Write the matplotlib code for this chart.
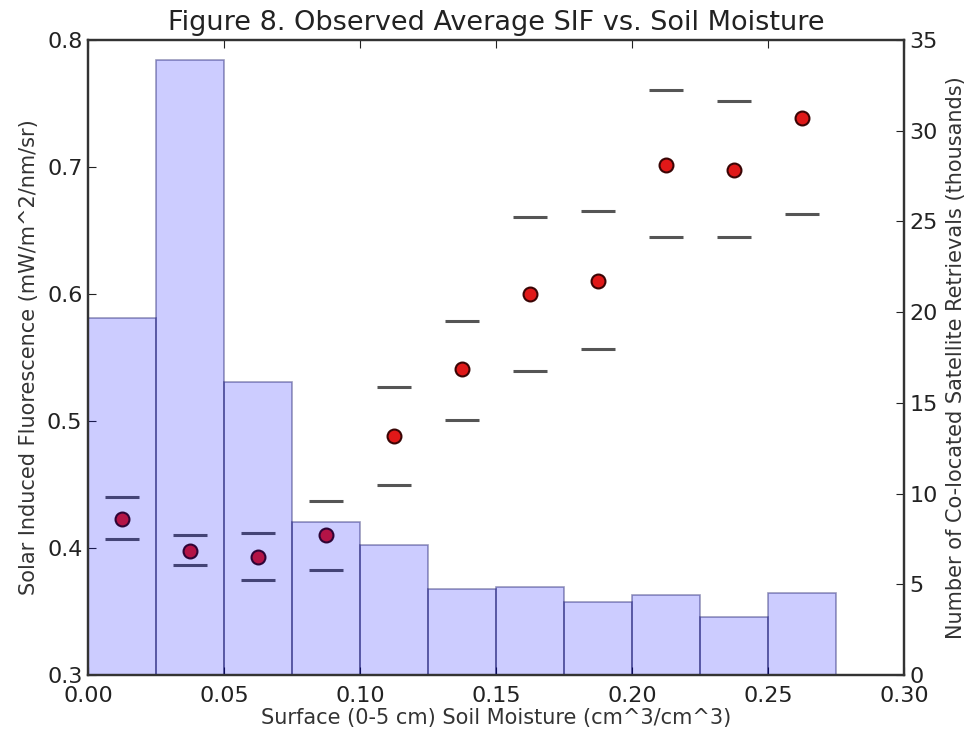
import numpy as np
import matplotlib
matplotlib.use("Agg")
import matplotlib.pyplot as plt

# soil moisture bin edges / centres
bin_left = [0.000, 0.025, 0.050, 0.075, 0.100, 0.125, 0.150, 0.175, 0.200, 0.225, 0.250]
bin_mid = [0.0125, 0.0375, 0.0625, 0.0875, 0.1125, 0.1375, 0.1625, 0.1875, 0.2125, 0.2375, 0.2625]

# counts of retrievals per bin (thousands)
counts = [19.7, 33.9, 16.15, 8.45, 7.15, 4.75, 4.85, 4.0, 4.4, 3.2, 4.5]

# mean SIF and spread
sif_mean = [0.4226, 0.398, 0.393, 0.410, 0.488, 0.541, 0.5998, 0.6105, 0.7016, 0.6976, 0.7383]
sif_hi = [0.440, 0.410, 0.412, 0.437, 0.527, 0.579, 0.661, 0.665, 0.7606, 0.7522, 0.814]
sif_lo = [0.407, 0.3864, 0.3746, 0.383, 0.450, 0.5008, 0.5396, 0.5565, 0.6446, 0.6446, 0.6628]

plt.rcParams['font.family'] = ['DejaVu Sans']
plt.rcParams['xtick.direction'] = 'in'
plt.rcParams['ytick.direction'] = 'in'

fig = plt.figure(figsize=(9.8, 7.4), dpi=100)
ax = fig.add_axes([0.0898, 0.0878, 0.8326, 0.8582])

ax.plot(bin_mid, sif_hi, linestyle='none', marker='_', markersize=24,
        markeredgewidth=2.2, color='#555555', clip_on=True)
ax.plot(bin_mid, sif_lo, linestyle='none', marker='_', markersize=24,
        markeredgewidth=2.2, color='#555555', clip_on=True)
ax.plot(bin_mid, sif_mean, linestyle='none', marker='o', markersize=10,
        markerfacecolor='#e01818', markeredgecolor='#3a0505', markeredgewidth=1.5)

ax.set_xlim(0, 0.30)
ax.set_ylim(0.3, 0.8)
ax.set_xticks(np.arange(0, 0.31, 0.05))
ax.set_xticklabels(['%.2f' % v for v in np.arange(0, 0.31, 0.05)])
ax.set_yticks(np.arange(0.3, 0.81, 0.1))
ax.set_yticklabels(['%.1f' % v for v in np.arange(0.3, 0.81, 0.1)])
ax.tick_params(axis='both', labelsize=16, length=6, top=True, colors='#222222')
ax.tick_params(axis='x', pad=8)
ax.tick_params(axis='y', pad=4)
ax.set_xlabel('Surface (0-5 cm) Soil Moisture (cm^3/cm^3)', fontsize=15, color='#333333', labelpad=1)
ax.set_ylabel('Solar Induced Fluorescence (mW/m^2/nm/sr)', fontsize=15, color='#333333', labelpad=6)
ax.set_title('Figure 8. Observed Average SIF vs. Soil Moisture', fontsize=19.5, color='#222222', pad=7)

ax2 = ax.twinx()
ax2.bar(bin_left, counts, width=0.025, align='edge',
        facecolor=(0, 0, 1, 0.2), edgecolor=(0, 0, 0.35, 0.4), linewidth=1.2)
ax2.set_ylim(0, 35)
ax2.set_xlim(0, 0.30)
ax2.set_yticks(range(0, 36, 5))
ax2.tick_params(axis='y', labelsize=16, length=6, pad=4, colors='#222222')
ax2.set_ylabel('Number of Co-located Satellite Retrievals (thousands)', fontsize=15, color='#333333', labelpad=6)

for a in (ax, ax2):
    for s in a.spines.values():
        s.set_linewidth(1.6)
        s.set_color('#333333')

fig.savefig('out.png', dpi=100, facecolor='white')
